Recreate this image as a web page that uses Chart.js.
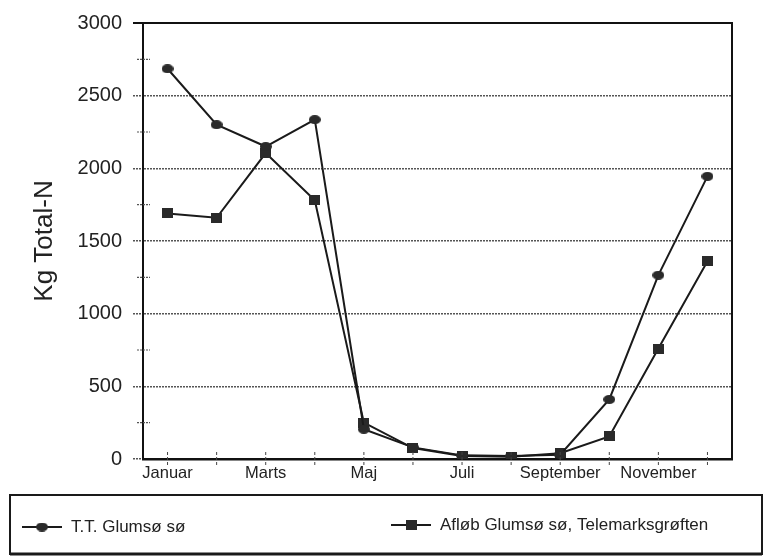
<!DOCTYPE html>
<html>
<head>
<meta charset="utf-8">
<script src="https://cdn.jsdelivr.net/npm/chart.js@4/dist/chart.umd.min.js"></script>
<style>
html,body{margin:0;padding:0;background:#fff;}
#wrap{width:764px;height:556px;position:relative;}
canvas{display:block;}
</style>
</head>
<body>
<div id="wrap"><canvas id="c" width="764" height="556" style="width:764px;height:556px"></canvas></div>
<script>
// ---- data ----
const months = ['Januar','Februar','Marts','April','Maj','Juni','Juli','August','September','Oktober','November','December'];
const tickLabels = ['Januar','','Marts','','Maj','','Juli','','September','','November',''];
const seriesNames = ['T.T. Glumsø sø','Afløb Glumsø sø, Telemarksgrøften'];
const ttGlumso = [2685, 2300, 2150, 2335, 205, 80, 25, 20, 30, 410, 1265, 1945];
const afloeb   = [1690, 1660, 2105, 1780, 250, 75, 20, 15, 40, 155, 760, 1360];
const yTitle = 'Kg Total-N';
const yMin = 0, yMax = 3000, yStep = 500, yMinorStep = 250;

const FONT = '"Liberation Sans", Arial, sans-serif';
const INK = '#222';

function makeMarker(shape, w, h) {
  const c = document.createElement('canvas');
  c.width = w; c.height = h;
  const g = c.getContext('2d');
  g.fillStyle = '#2a2a2a';
  if (shape === 'ellipse') {
    g.beginPath();
    g.ellipse(w / 2, h / 2, w / 2, h / 2, 0, 0, Math.PI * 2);
    g.fill();
  } else {
    g.fillRect(0, 0, w, h);
  }
  return c;
}
const circleMarker = makeMarker('ellipse', 12, 9);
const squareMarker = makeMarker('rect', 11, 10);

// frame (solid top and right lines), minor y ticks, x tick marks
const framePlugin = {
  id: 'frame',
  afterDatasetsDraw(chart) {
    const {ctx, chartArea: a, scales: {x, y}} = chart;
    ctx.save();
    ctx.strokeStyle = '#111';
    ctx.lineWidth = 2;
    ctx.beginPath();
    ctx.moveTo(a.left - 10, a.top);
    ctx.lineTo(a.right, a.top);
    ctx.lineTo(a.right, a.bottom);
    ctx.stroke();
    // minor y ticks
    ctx.strokeStyle = '#555';
    ctx.lineWidth = 1.2;
    ctx.setLineDash([2, 1]);
    for (let v = yMin + yMinorStep; v < yMax; v += yStep) {
      const py = y.getPixelForValue(v);
      ctx.beginPath();
      ctx.moveTo(a.left - 6, py);
      ctx.lineTo(a.left + 7, py);
      ctx.stroke();
    }
    // x tick marks at every month
    ctx.setLineDash([3, 2]);
    ctx.lineWidth = 1;
    ctx.strokeStyle = '#444';
    for (let i = 0; i < months.length; i++) {
      const px = x.getPixelForValue(i);
      ctx.beginPath();
      ctx.moveTo(px, a.bottom - 7);
      ctx.lineTo(px, a.bottom + 8);
      ctx.stroke();
    }
    ctx.restore();
  }
};

// boxed legend below the chart
const boxLegend = {
  id: 'boxLegend',
  afterDraw(chart) {
    const ctx = chart.ctx;
    ctx.save();
    ctx.strokeStyle = '#1a1a1a';
    ctx.lineWidth = 2;
    ctx.strokeRect(10, 495, 752, 59);
    ctx.lineWidth = 3;
    ctx.beginPath();
    ctx.moveTo(10, 554);
    ctx.lineTo(762, 554);
    ctx.stroke();
    const pos = [[22, 527], [391, 525]];
    chart.data.datasets.forEach((ds, i) => {
      const [lx, ly] = pos[i];
      ctx.strokeStyle = ds.borderColor;
      ctx.lineWidth = 2;
      ctx.beginPath();
      ctx.moveTo(lx, ly);
      ctx.lineTo(lx + 40, ly);
      ctx.stroke();
      const m = ds.pointStyle;
      ctx.drawImage(m, lx + 20 - m.width / 2, ly - m.height / 2);
      ctx.fillStyle = INK;
      ctx.font = '17px ' + FONT;
      ctx.textBaseline = 'middle';
      ctx.textAlign = 'left';
      ctx.fillText(ds.label, lx + 49, ly);
    });
    ctx.restore();
  }
};

new Chart(document.getElementById('c'), {
  type: 'line',
  data: {
    labels: months,
    datasets: [
      { label: seriesNames[0], data: ttGlumso, borderColor: '#1a1a1a', borderWidth: 2,
        pointStyle: circleMarker, pointRadius: 6, tension: 0, fill: false },
      { label: seriesNames[1], data: afloeb, borderColor: '#1a1a1a', borderWidth: 2,
        pointStyle: squareMarker, pointRadius: 6, tension: 0, fill: false }
    ]
  },
  options: {
    responsive: false,
    animation: false,
    devicePixelRatio: 1,
    layout: { padding: { top: 22, right: 32, bottom: 71, left: 0 } },
    plugins: { legend: { display: false }, tooltip: { enabled: false } },
    scales: {
      x: {
        type: 'category',
        offset: true,
        grid: { display: false, drawTicks: false },
        border: { display: true, color: '#111', width: 2.5 },
        ticks: {
          autoSkip: false, maxRotation: 0, minRotation: 0, padding: 5,
          color: INK, font: { family: FONT, size: 16.5 },
          callback: (v, i) => tickLabels[i]
        },
        afterFit: s => { s.height = 26; }
      },
      y: {
        min: yMin, max: yMax,
        ticks: { stepSize: yStep, padding: 11, color: INK, font: { family: FONT, size: 20 },
                 callback: v => String(v) },
        grid: { color: '#555', lineWidth: 1.5, tickLength: 10, tickColor: '#555', tickWidth: 1.5, tickBorderDash: [2, 1] },
        border: { display: true, color: '#111', width: 2, dash: [2, 1] },
        title: { display: true, text: yTitle, color: INK, font: { family: FONT, size: 26 }, padding: { top: 29, bottom: 0 } },
        afterFit: s => { s.width = 143; }
      }
    }
  },
  plugins: [framePlugin, boxLegend]
});
</script>
</body>
</html>
